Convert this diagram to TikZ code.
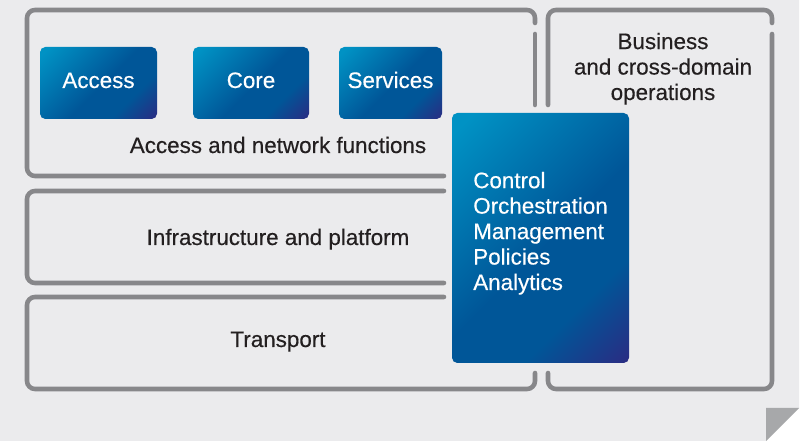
\documentclass[tikz,border=0pt]{standalone}
\usepackage{fontspec}
\setmainfont{Liberation Sans}
\newfontfamily\labelfont{Liberation Sans}[FakeBold=0.35]

\definecolor{bg}{HTML}{EBEBED}
\definecolor{rule}{HTML}{87878A}
\definecolor{fold}{HTML}{A7A8AA}
\definecolor{ink}{HTML}{231F20}
\definecolor{blueA}{RGB}{0,146,196}
\definecolor{blueB}{RGB}{0,86,152}
\definecolor{blueC}{RGB}{44,42,130}

% diagonal fade used by the blue tiles
\pgfdeclarehorizontalshading{bluefade}{100bp}{%
  color(0bp)=(blueA); color(18bp)=(blueA); color(52bp)=(blueB);
  color(68bp)=(blueB); color(86bp)=(blueC); color(100bp)=(blueC)}

\tikzset{
  frame/.style={draw=rule, line width=3.4pt, line cap=round, rounded corners=6pt},
  tile/.style={rounded corners=4pt, shading=bluefade, shading angle=-45},
  whitetext/.style={text=white, inner sep=0pt, font=\labelfont\fontsize{16.8}{19.1}\selectfont},
  darktext/.style={text=ink, inner sep=0pt, font=\labelfont\fontsize{16.8}{19.1}\selectfont},
}

\begin{document}
\begin{tikzpicture}[x=0.75pt, y=-0.75pt]
  \useasboundingbox (0,0) rectangle (803,441);

  % page with a folded corner
  \fill[white] (0,0) rectangle (803,441);
  \fill[bg] (0,0) -- (799,0) -- (799,408) -- (766,441) -- (0,441) -- cycle;
  \fill[fold] (766,408) -- (799,408) -- (766,441) -- cycle;

  % layer frames
  \draw[frame] (444,176) -- (27,176) -- (27,10) -- (535,10) -- (535,23);
  \draw[frame] (535,34) -- (535,105);
  \draw[frame] (444,191) -- (27,191) -- (27,283) -- (444,283);
  \draw[frame] (444,297) -- (27,297) -- (27,389) -- (535,389) -- (535,373);
  \draw[frame] (548,105) -- (548,10) -- (772,10) -- (772,23);
  \draw[frame] (772,34) -- (772,389) -- (548,389) -- (548,373);

  % network function tiles
  \path[tile] (40,47) rectangle (157,119);
  \path[tile] (193,47) rectangle (309,119);
  \path[tile] (339,47) rectangle (442,119);
  \node[whitetext, anchor=base] (access) at (98.5,88) {Access};
  \node[whitetext, anchor=base] (core) at (251,88) {Core};
  \node[whitetext, anchor=base] (services) at (390.5,88) {Services};

  % layer captions
  \node[darktext, anchor=base] (anf) at (278,153) {Access and network functions};
  \node[darktext, anchor=base] (infra) at (278,245) {Infrastructure and platform};
  \node[darktext, anchor=base] (transport) at (278,347) {Transport};
  \node[darktext, anchor=base, align=center] (business) at (663,100)
    {Business\\and cross-domain\\operations};

  % control and management column
  \path[tile] (452,113) rectangle (629,363);
  \node[whitetext, anchor=base west, align=left] (control) at (473,290)
    {Control\\Orchestration\\Management\\Policies\\Analytics};
\end{tikzpicture}
\end{document}
